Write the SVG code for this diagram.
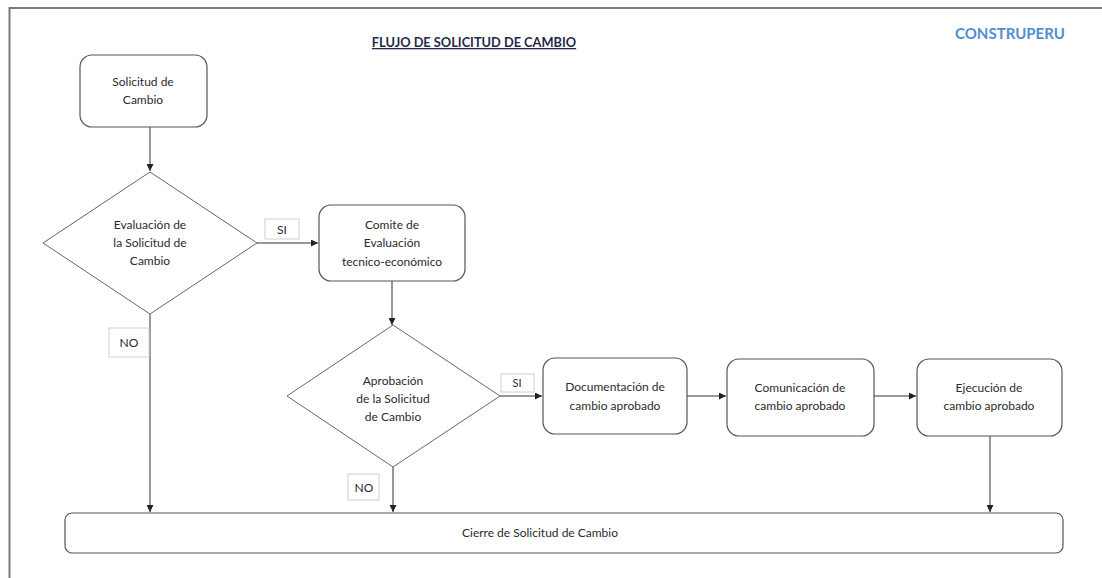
<svg xmlns="http://www.w3.org/2000/svg" width="1102" height="578" viewBox="0 0 1102 578">
<style>
.frame{fill:none;stroke:#7a7a7a;stroke-width:2}
.box{fill:#fff;stroke:#555;stroke-width:1.2}
.dia{fill:#fff;stroke:#666;stroke-width:1}
.lbl{fill:#fff;stroke:#cfcfcf;stroke-width:1}
.t{font-family:Lato,"Open Sans","Liberation Sans",sans-serif;font-size:12px;fill:#2b2b2b;text-anchor:middle}
.c{fill:none;stroke:#333;stroke-width:1}
</style>
<defs>
<marker id="ah" viewBox="0 0 10 10" refX="10" refY="5" markerWidth="7" markerHeight="7" orient="auto" markerUnits="userSpaceOnUse">
<path d="M0,0 L10,5 L0,10 z" fill="#222"/>
</marker>
</defs>
<rect width="1102" height="578" fill="#fff"/>
<path class="frame" d="M9.5,578 V8 H1102"/>
<text x="474" y="47" class="t" style="font-weight:bold;fill:#1f2a4a;text-decoration:underline;font-size:12.8px">FLUJO DE SOLICITUD DE CAMBIO</text>
<text x="1010" y="39" class="t" style="font-weight:bold;fill:#4f8fd0;font-size:15px">CONSTRUPERU</text>

<g id="connectors">
<path class="c" d="M150,127 V171" marker-end="url(#ah)"/>
<path class="c" d="M257,243 H318" marker-end="url(#ah)"/>
<path class="c" d="M392,281 V325" marker-end="url(#ah)"/>
<path class="c" d="M150,314 V512" marker-end="url(#ah)"/>
<path class="c" d="M500,396 H542" marker-end="url(#ah)"/>
<path class="c" d="M687,396 H726" marker-end="url(#ah)"/>
<path class="c" d="M874,396 H916" marker-end="url(#ah)"/>
<path class="c" d="M393,467 V512" marker-end="url(#ah)"/>
<path class="c" d="M990,436 V512" marker-end="url(#ah)"/>
</g>

<g id="lbl-si1"><rect class="lbl" x="265" y="219" width="34" height="20"/><text x="282" y="234" class="t">SI</text></g>
<g id="lbl-no1"><rect class="lbl" x="109" y="328" width="40" height="29"/><text x="129" y="347" class="t">NO</text></g>
<g id="lbl-si2"><rect class="lbl" x="501" y="374" width="33" height="18"/><text x="517" y="387" class="t" style="font-size:11px">SI</text></g>
<g id="lbl-no2"><rect class="lbl" x="348" y="474" width="31" height="26"/><text x="364" y="492" class="t">NO</text></g>

<g id="n-solicitud">
<rect class="box" x="80" y="55" width="127" height="72" rx="12"/>
<text x="143" y="86" class="t">Solicitud de</text>
<text x="143" y="104" class="t">Cambio</text>
</g>
<g id="n-evaluacion">
<polygon class="dia" points="150,172 257,243 150,314 43,243"/>
<text x="150" y="229" class="t">Evaluación de</text>
<text x="150" y="247" class="t">la Solicitud de</text>
<text x="150" y="265" class="t">Cambio</text>
</g>
<g id="n-comite">
<rect class="box" x="319" y="205" width="146" height="76" rx="12"/>
<text x="392" y="229" class="t">Comite de</text>
<text x="392" y="247" class="t">Evaluación</text>
<text x="392" y="266" class="t">tecnico-económico</text>
</g>
<g id="n-aprobacion">
<polygon class="dia" points="393,325 500,396 393,467 287,396"/>
<text x="393" y="385" class="t">Aprobación</text>
<text x="393" y="403" class="t">de la Solicitud</text>
<text x="393" y="421" class="t">de Cambio</text>
</g>
<g id="n-documentacion">
<rect class="box" x="543" y="358" width="144" height="76" rx="12"/>
<text x="615" y="391" class="t">Documentación de</text>
<text x="615" y="410" class="t">cambio aprobado</text>
</g>
<g id="n-comunicacion">
<rect class="box" x="727" y="359" width="147" height="77" rx="12"/>
<text x="800" y="392" class="t">Comunicación de</text>
<text x="800" y="410" class="t">cambio aprobado</text>
</g>
<g id="n-ejecucion">
<rect class="box" x="917" y="359" width="145" height="77" rx="12"/>
<text x="989" y="392" class="t">Ejecución de</text>
<text x="989" y="410" class="t">cambio aprobado</text>
</g>
<g id="n-cierre">
<rect class="box" x="65" y="513" width="998" height="40" rx="7"/>
<text x="540" y="537" class="t">Cierre de Solicitud de Cambio</text>
</g>
</svg>
